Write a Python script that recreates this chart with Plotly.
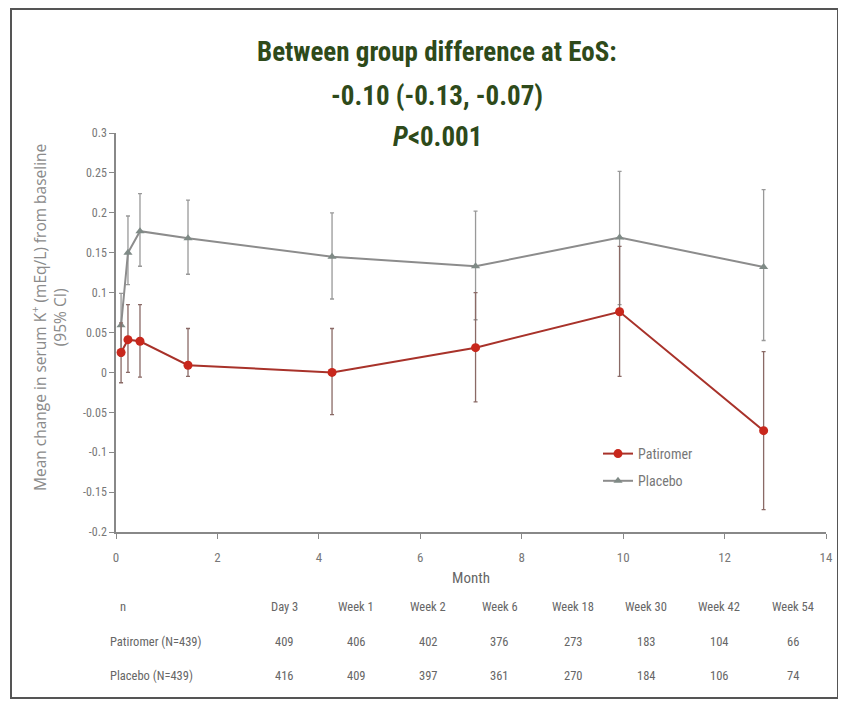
import plotly.graph_objects as go

# ---- data ----
months = [0.1, 0.236, 0.473, 1.42, 4.26, 7.09, 9.93, 12.77]
patiromer = [0.025, 0.041, 0.039, 0.009, 0.0, 0.031, 0.076, -0.073]
patiromer_hi = [0.062, 0.085, 0.085, 0.055, 0.055, 0.100, 0.158, 0.026]
patiromer_lo = [-0.013, 0.0, -0.006, -0.005, -0.053, -0.037, -0.005, -0.172]
placebo = [0.059, 0.150, 0.177, 0.168, 0.145, 0.133, 0.169, 0.132]
placebo_hi = [0.099, 0.196, 0.224, 0.216, 0.200, 0.202, 0.252, 0.229]
placebo_lo = [0.020, 0.110, 0.133, 0.123, 0.092, 0.066, 0.085, 0.040]

visit_labels = ["Day 3", "Week 1", "Week 2", "Week 6", "Week 18", "Week 30", "Week 42", "Week 54"]
n_patiromer = [409, 406, 402, 376, 273, 183, 104, 66]
n_placebo = [416, 409, 397, 361, 270, 184, 106, 74]

y_ticks = [0.3, 0.25, 0.2, 0.15, 0.1, 0.05, 0, -0.05, -0.1, -0.15, -0.2]
y_ticktext = ["0.3", "0.25", "0.2", "0.15", "0.1", "0.05", "0", "-0.05", "-0.1", "-0.15", "-0.2"]
x_ticks = [0, 2, 4, 6, 8, 10, 12, 14]

FONT = "Liberation Sans Narrow, Arial Narrow, Roboto Condensed, sans-serif"
RED = "#c8271c"
REDLINE = "#a8322a"
GREY = "#8c8c8c"
TXT = "#666666"

fig = go.Figure()

fig.add_trace(go.Scatter(
    x=months, y=placebo, name="Placebo", mode="lines+markers", legendgroup="b",
    legendrank=2,
    line=dict(color=GREY, width=2),
    marker=dict(symbol="triangle-up", size=8, color="#7f8a86"),
    error_y=dict(type="data", symmetric=False,
                 array=[h - v for h, v in zip(placebo_hi, placebo)],
                 arrayminus=[v - l for l, v in zip(placebo_lo, placebo)],
                 color="#999999", thickness=1.3, width=2),
))
fig.add_trace(go.Scatter(
    x=months, y=patiromer, name="Patiromer", mode="lines+markers", legendgroup="a",
    legendrank=1,
    line=dict(color=REDLINE, width=2),
    marker=dict(symbol="circle", size=9, color=RED),
    error_y=dict(type="data", symmetric=False,
                 array=[h - v for h, v in zip(patiromer_hi, patiromer)],
                 arrayminus=[v - l for l, v in zip(patiromer_lo, patiromer)],
                 color="#8a6a66", thickness=1.3, width=2),
))

# page has an 8px body margin: figure origin sits at screen (8, 8)
OFF = 8
W, H = 838, 699
L, R, T, B = 116 - OFF, 20, 133 - OFF, 175
pw = W - L - R
ph = H - T - B


def px_to_paper_x(px):
    return (px - OFF - L) / pw


def px_to_paper_y(py):
    return (H - B - (py - OFF)) / ph


annotations = []
# title lines
title_lines = ["Between group difference at EoS:", "-0.10 (-0.13, -0.07)", "<i>P</i>&lt;0.001"]
title_y = [52, 96, 137]
for t, yy in zip(title_lines, title_y):
    annotations.append(dict(
        text="<b>" + t + "</b>", x=px_to_paper_x(437), y=px_to_paper_y(yy),
        xref="paper", yref="paper", showarrow=False, xanchor="center", yanchor="middle",
        font=dict(family=FONT, size=27, color="#2e4a1a")))

# table
col_x = [284, 356, 428, 500, 573, 646, 719, 793]
row_y = [606, 641, 675]
annotations.append(dict(text="n", x=px_to_paper_x(118), y=px_to_paper_y(row_y[0]),
                        xref="paper", yref="paper", showarrow=False, xanchor="left", yanchor="middle",
                        font=dict(family=FONT, size=12.5, color=TXT)))
annotations.append(dict(text="Patiromer (N=439)", x=px_to_paper_x(108), y=px_to_paper_y(row_y[1]),
                        xref="paper", yref="paper", showarrow=False, xanchor="left", yanchor="middle",
                        font=dict(family=FONT, size=12.5, color=TXT)))
annotations.append(dict(text="Placebo (N=439)", x=px_to_paper_x(108), y=px_to_paper_y(row_y[2]),
                        xref="paper", yref="paper", showarrow=False, xanchor="left", yanchor="middle",
                        font=dict(family=FONT, size=12.5, color=TXT)))
for cx, lab, a, b in zip(col_x, visit_labels, n_patiromer, n_placebo):
    for txt, ry in ((lab, row_y[0]), (str(a), row_y[1]), (str(b), row_y[2])):
        annotations.append(dict(text=txt, x=px_to_paper_x(cx), y=px_to_paper_y(ry),
                                xref="paper", yref="paper", showarrow=False, xanchor="center",
                                yanchor="middle",
                                font=dict(family=FONT, size=12.5, color=TXT)))

# y title
annotations.append(dict(
    text="Mean change in serum K<sup>+</sup> (mEq/L) from baseline<br>(95% CI)",
    x=px_to_paper_x(49), y=px_to_paper_y(318), xref="paper", yref="paper",
    showarrow=False, textangle=-90, xanchor="center", yanchor="middle",
    font=dict(family="Open Sans, sans-serif", size=15.5, color="#8a8a8a")))

fig.update_layout(
    width=W, height=H,
    margin=dict(l=L, r=R, t=T, b=B),
    paper_bgcolor="white", plot_bgcolor="white",
    showlegend=True,
    legend=dict(x=px_to_paper_x(598), y=px_to_paper_y(438), xanchor="left", yanchor="top",
                traceorder="grouped", bgcolor="rgba(0,0,0,0)",
                font=dict(family=FONT, size=14, color="#777777"), itemwidth=30,
                tracegroupgap=6),
    annotations=annotations,
    shapes=[dict(type="rect", xref="paper", yref="paper",
                 x0=px_to_paper_x(11), x1=px_to_paper_x(838),
                 y0=px_to_paper_y(698), y1=px_to_paper_y(9),
                 line=dict(color="#555555", width=2))],
)

fig.update_xaxes(range=[0, 14], tickvals=x_ticks, showgrid=False, zeroline=False,
                 showline=True, linecolor="#888888", linewidth=1.5, ticks="outside",
                 ticklen=5, tickcolor="#888888", ticklabelstandoff=8,
                 tickfont=dict(family=FONT, size=13, color="#777777"),
                 title=dict(text="Month", standoff=8,
                            font=dict(family=FONT, size=15, color="#666666")))
fig.update_yaxes(range=[-0.2, 0.3], tickvals=y_ticks, ticktext=y_ticktext, showgrid=False,
                 zeroline=False, showline=True, linecolor="#888888", linewidth=1.5,
                 ticks="outside", ticklen=5, tickcolor="#888888",
                 tickfont=dict(family=FONT, size=12, color="#777777"))

fig.write_html("out.html")
